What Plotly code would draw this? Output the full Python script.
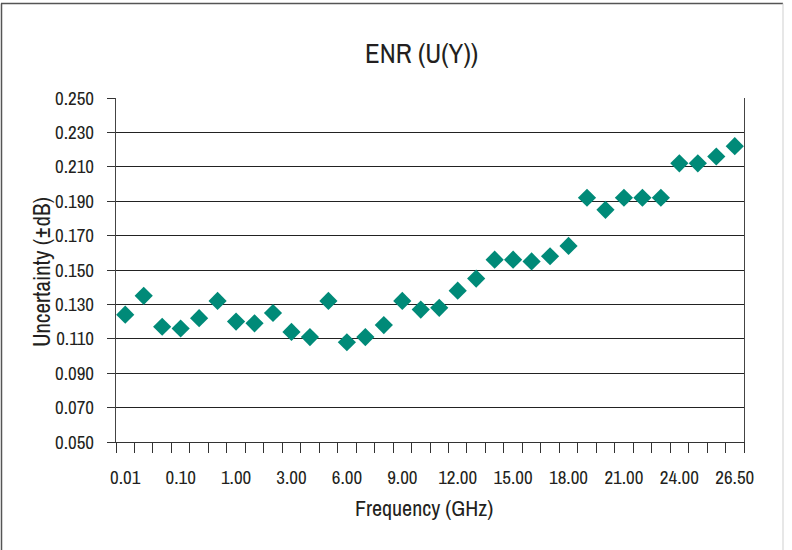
import plotly.graph_objects as go

# ---- data ----
freq_labels = ["0.01", "0.05", "0.07", "0.10", "0.20", "0.50", "1.00", "1.50", "2.00",
               "3.00", "4.00", "5.00", "6.00", "7.00", "8.00", "9.00", "10.00", "11.00",
               "12.00", "13.00", "14.00", "15.00", "16.00", "17.00", "18.00", "19.00",
               "20.00", "21.00", "22.00", "23.00", "24.00", "25.00", "26.00", "26.50"]
uncertainty = [0.124, 0.135, 0.117, 0.116, 0.122, 0.132, 0.120, 0.119, 0.125,
               0.114, 0.111, 0.132, 0.108, 0.111, 0.118, 0.132, 0.127, 0.128,
               0.138, 0.145, 0.156, 0.156, 0.155, 0.158, 0.164, 0.192,
               0.185, 0.192, 0.192, 0.192, 0.212, 0.212, 0.216, 0.222]
y_ticks = [0.05, 0.07, 0.09, 0.11, 0.13, 0.15, 0.17, 0.19, 0.21, 0.23, 0.25]
label_every = 3

title_text = "ENR (U(Y))"
x_title = "Frequency (GHz)"
y_title = "Uncertainty (±dB)"

# ---- layout geometry (pixels) ----
W, H = 792, 550
ML, MR, MT, MB = 116, 48, 98, 108
PW, PH = W - ML - MR, H - MT - MB

def px(xp):
    return (xp - ML) / PW

def py(yp):
    return (H - MB - yp) / PH

FONT = "Archivo Narrow, Roboto Condensed, Liberation Sans Narrow, DejaVu Sans Condensed, sans-serif"
TXT = "#231f20"

idx = list(range(len(freq_labels)))
tick_idx = idx[::label_every]

fig = go.Figure()
fig.add_trace(go.Scatter(
    x=idx, y=uncertainty, mode="markers",
    marker=dict(symbol="diamond", size=14, color="#008a78", line=dict(width=0)),
    showlegend=False, hoverinfo="y",
))

fig.update_layout(
    width=W, height=H,
    margin=dict(l=ML, r=MR, t=MT, b=MB, pad=0),
    paper_bgcolor="white", plot_bgcolor="white",
    font=dict(family=FONT, color=TXT, size=19),
    showlegend=False,
)

fig.update_xaxes(
    range=[-0.5, len(freq_labels) - 0.5],
    tickmode="array", tickvals=tick_idx, ticktext=[freq_labels[i] for i in tick_idx],
    ticks="", ticklen=0, showgrid=False, zeroline=False,
    showline=True, linecolor="#333", linewidth=1.3, mirror=False,
    tickfont=dict(family=FONT, size=19, color=TXT),
    ticklabelstandoff=18,
    minor=dict(tickmode="linear", tick0=-0.5, dtick=1, ticks="outside",
               ticklen=10, tickwidth=1.3, tickcolor="#333", showgrid=False),
)
fig.update_yaxes(
    range=[y_ticks[0], y_ticks[-1]],
    tickmode="array", tickvals=y_ticks, ticktext=[f"{v:.3f}" for v in y_ticks],
    ticks="outside", ticklen=8, tickwidth=1.3, tickcolor="#333",
    showgrid=True, gridcolor="#222", gridwidth=1.2, zeroline=False,
    showline=True, linecolor="#444", linewidth=1.3, mirror=True,
    tickfont=dict(family=FONT, size=19, color=TXT),
    ticklabelstandoff=9,
)

# titles as annotations for precise placement
fig.add_annotation(text=title_text, xref="paper", yref="paper",
                   x=px(421), y=py(53), xanchor="center", yanchor="middle",
                   showarrow=False, font=dict(family=FONT, size=27, color=TXT))
fig.add_annotation(text=x_title, xref="paper", yref="paper",
                   x=px(424), y=py(508), xanchor="center", yanchor="middle",
                   showarrow=False, font=dict(family=FONT, size=22, color=TXT))
fig.add_annotation(text=y_title, xref="paper", yref="paper",
                   x=px(41), y=py(272), xanchor="center", yanchor="middle",
                   textangle=-90, showarrow=False,
                   font=dict(family=FONT, size=23, color=TXT))

# outer chart frame
fig.add_shape(type="line", xref="paper", yref="paper",
              x0=px(1), x1=px(783), y0=py(3.5), y1=py(3.5),
              line=dict(color="#555", width=1.5))
fig.add_shape(type="line", xref="paper", yref="paper",
              x0=px(1.5), x1=px(1.5), y0=py(3.5), y1=py(552),
              line=dict(color="#555", width=1.5))
fig.add_shape(type="line", xref="paper", yref="paper",
              x0=px(783), x1=px(783), y0=py(3.5), y1=py(552),
              line=dict(color="#cfcfcf", width=1))

fig.write_html("out.html", config={"displayModeBar": False},
               post_script="document.body.style.margin='0px';")
